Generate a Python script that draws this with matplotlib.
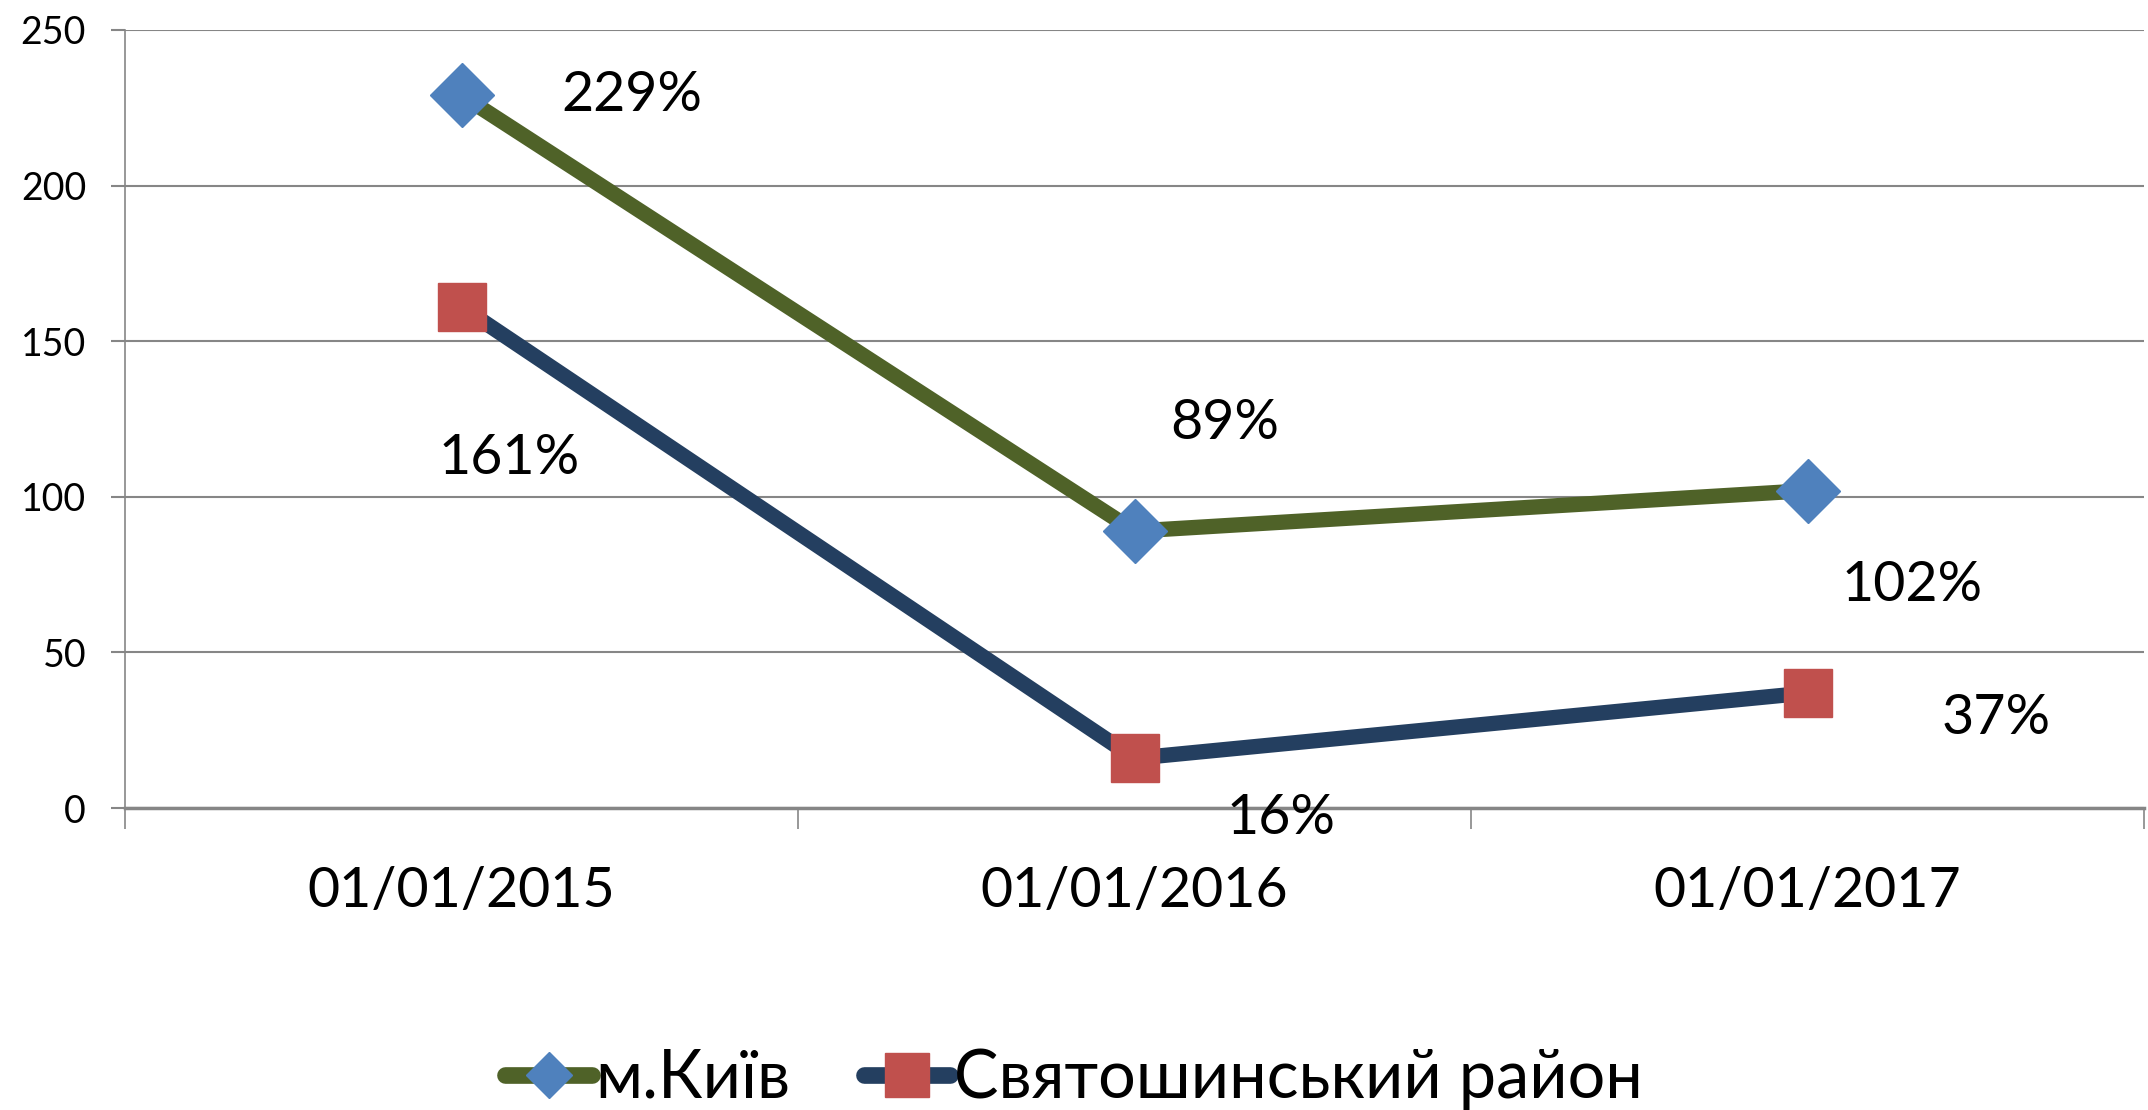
import matplotlib
matplotlib.use("Agg")
import matplotlib.pyplot as plt
from matplotlib.lines import Line2D

plt.rcParams["font.family"] = ["Lato", "DejaVu Sans"]

# data
dates = ["01/01/2015", "01/01/2016", "01/01/2017"]
kyiv = [229, 89, 102]
sviat = [161, 16, 37]
kyiv_labels = ["229%", "89%", "102%"]
sviat_labels = ["161%", "16%", "37%"]
series_names = ["м.Київ", "Святошинський район"]

# label offsets in pixels from the point
kyiv_off = [(170, 0), (90, 108), (104, -95)]
sviat_off = [(48, -152), (146, -60), (189, -26)]

GREEN = "#4F6228"
NAVY = "#243F60"
BLUE = "#4F81BD"
RED = "#C0504D"
GRID = "#868686"

fig = plt.figure(figsize=(21.48, 11.1), dpi=100)
ax = fig.add_axes([0.0582, 0.272, 0.9400, 0.701])

x = list(range(len(dates)))
ax.plot(x, kyiv, color=GREEN, lw=11, marker="D", ms=32.5,
        mfc=BLUE, mec=BLUE, zorder=3)
ax.plot(x, sviat, color=NAVY, lw=11, marker="s", ms=35,
        mfc=RED, mec=RED, zorder=3)

for xi, v, t, off in zip(x, kyiv, kyiv_labels, kyiv_off):
    ax.annotate(t, (xi, v), xytext=off, textcoords="offset pixels",
                ha="center", va="center", fontsize=40)
for xi, v, t, off in zip(x, sviat, sviat_labels, sviat_off):
    ax.annotate(t, (xi, v), xytext=off, textcoords="offset pixels",
                ha="center", va="center", fontsize=40)

ax.set_xlim(-0.5, 2.5)
ax.set_ylim(0, 250)
ax.set_yticks(range(0, 251, 50))
ax.grid(axis="y", color=GRID, lw=1.5)
ax.set_axisbelow(True)

ax.set_xticks(x)
ax.set_xticklabels(dates, fontsize=40)
ax.set_xticks([-0.5, 0.5, 1.5, 2.5], minor=True)
ax.tick_params(axis="x", which="major", length=0, pad=42)
ax.tick_params(axis="x", which="minor", length=15, width=1.2, color=GRID)
ax.tick_params(axis="y", labelsize=27, length=10, width=1.5, color=GRID, pad=18)

for s in ["top", "right"]:
    ax.spines[s].set_visible(False)
ax.spines["left"].set_color(GRID)
ax.spines["left"].set_linewidth(1.2)
ax.spines["bottom"].set_color(GRID)
ax.spines["bottom"].set_linewidth(2.5)

handles = [
    Line2D([], [], color=GREEN, lw=12, marker="D", ms=23,
           mfc=BLUE, mec=BLUE, solid_capstyle="round"),
    Line2D([], [], color=NAVY, lw=12, marker="s", ms=32,
           mfc=RED, mec=RED, solid_capstyle="round"),
]
fig.legend(handles, series_names, loc="center", bbox_to_anchor=(0.5, 0.028),
           ncol=2, frameon=False, fontsize=48, handlelength=1.3,
           handletextpad=0.05, columnspacing=1.1, borderpad=0)

fig.savefig("out.png", dpi=100)
